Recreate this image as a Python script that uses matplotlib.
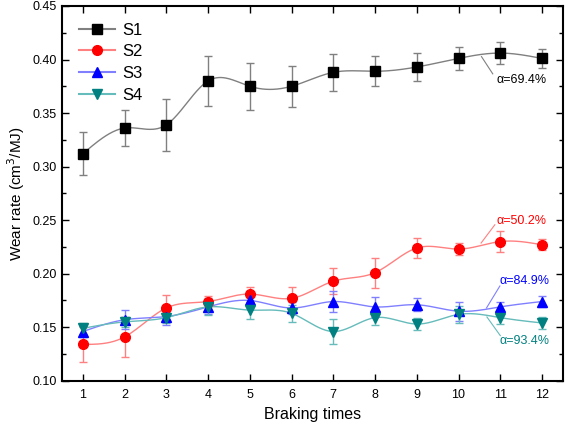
import matplotlib
matplotlib.use('Agg')
import matplotlib.pyplot as plt
import numpy as np
from matplotlib.ticker import MultipleLocator

plt.rcParams['font.family'] = ['Liberation Sans', 'DejaVu Sans']

# dados
braking = [1, 2, 3, 4, 5, 6, 7, 8, 9, 10, 11, 12]
s1 = [0.312, 0.336, 0.339, 0.380, 0.375, 0.375, 0.388, 0.389, 0.393, 0.401, 0.406, 0.401]
s1_err = [0.020, 0.017, 0.024, 0.023, 0.022, 0.019, 0.017, 0.014, 0.013, 0.011, 0.010, 0.009]
s2 = [0.134, 0.141, 0.168, 0.174, 0.181, 0.177, 0.193, 0.201, 0.224, 0.223, 0.230, 0.227]
s2_err = [0.016, 0.019, 0.012, 0.005, 0.007, 0.011, 0.012, 0.014, 0.009, 0.006, 0.010, 0.005]
s3 = [0.146, 0.157, 0.160, 0.169, 0.175, 0.168, 0.174, 0.169, 0.171, 0.165, 0.169, 0.174]
s3_err = [0.005, 0.009, 0.008, 0.007, 0.006, 0.006, 0.010, 0.009, 0.006, 0.009, 0.005, 0.005]
s4 = [0.149, 0.155, 0.159, 0.169, 0.166, 0.163, 0.146, 0.159, 0.153, 0.162, 0.159, 0.154]
s4_err = [0.005, 0.005, 0.005, 0.008, 0.008, 0.008, 0.012, 0.007, 0.006, 0.008, 0.006, 0.006]
rotulos = ['S1', 'S2', 'S3', 'S4']
alfas = ['69.4', '50.2', '84.9', '93.4']


# spline cubica natural so para desenhar a curva suave entre os pontos
def spline(x, y, n=400):
    x = np.asarray(x, float)
    y = np.asarray(y, float)
    k = len(x)
    h = np.diff(x)
    A = np.zeros((k, k))
    b = np.zeros(k)
    A[0, 0] = A[-1, -1] = 1
    for i in range(1, k - 1):
        A[i, i - 1] = h[i - 1]
        A[i, i] = 2 * (h[i - 1] + h[i])
        A[i, i + 1] = h[i]
        b[i] = 3 * ((y[i + 1] - y[i]) / h[i] - (y[i] - y[i - 1]) / h[i - 1])
    c = np.linalg.solve(A, b)
    xs = np.linspace(x[0], x[-1], n)
    idx = np.clip(np.searchsorted(x, xs) - 1, 0, k - 2)
    dx = xs - x[idx]
    bb = (y[idx + 1] - y[idx]) / h[idx] - h[idx] * (2 * c[idx] + c[idx + 1]) / 3
    d = (c[idx + 1] - c[idx]) / (3 * h[idx])
    return xs, y[idx] + bb * dx + c[idx] * dx ** 2 + d * dx ** 3


series = [s1, s2, s3, s4]
erros = [s1_err, s2_err, s3_err, s4_err]
cor_marc = ['black', 'red', 'blue', '#008080']
cor_linha = ['#808080', '#FF8080', '#8080FF', '#66BBBB']
marcadores = ['s', 'o', '^', 'v']

fig = plt.figure(figsize=(5.66, 4.25), dpi=100)
ax = fig.add_axes([0.1095, 0.104, 0.885, 0.882])

for i in range(4):
    xs, ys = spline(braking, series[i])
    ax.plot(xs, ys, color=cor_linha[i], lw=1.0, zorder=2)
    ax.errorbar(braking, series[i], yerr=erros[i], fmt='none', ecolor=cor_linha[i],
                elinewidth=1.0, capsize=3, capthick=1.0, zorder=3)
    ax.plot(braking, series[i], linestyle='none', marker=marcadores[i], color=cor_marc[i],
            markersize=7, zorder=4)
    # entrada da legenda
    ax.plot([], [], color=cor_linha[i], marker=marcadores[i], markerfacecolor=cor_marc[i],
            markeredgecolor=cor_marc[i], markersize=7, label=rotulos[i])

# anotacoes alfa com linha guia (inicio, fim, posicao do texto)
anot = [
    ((10.55, 0.4027), (10.82, 0.3866), (10.92, 0.381)),
    ((10.54, 0.2286), (10.87, 0.2457), (10.92, 0.2494)),
    ((10.67, 0.168), (10.99, 0.1885), (10.97, 0.193)),
    ((10.68, 0.1596), (11.00, 0.1422), (10.97, 0.137)),
]
for i, (p0, p1, pt) in enumerate(anot):
    ax.plot([p0[0], p1[0]], [p0[1], p1[1]], color=cor_linha[i], lw=0.8, zorder=2)
    ax.text(pt[0], pt[1], '\u03b1=' + alfas[i] + '%', color=cor_marc[i], fontsize=9,
            ha='left', va='center')

ax.set_xlim(0.5, 12.5)
ax.set_ylim(0.10, 0.45)
ax.set_xticks(braking)
ax.yaxis.set_major_locator(MultipleLocator(0.05))
ax.yaxis.set_minor_locator(MultipleLocator(0.025))
ax.yaxis.set_major_formatter(matplotlib.ticker.FormatStrFormatter('%.2f'))
ax.tick_params(which='both', direction='in', top=True, right=True, labelsize=9)
ax.tick_params(which='major', length=5, width=1)
ax.tick_params(which='minor', length=3, width=1)
ax.tick_params(axis='x', pad=6)
for s in ax.spines.values():
    s.set_linewidth(1.5)

ax.set_xlabel('Braking times', fontsize=11.5)
ax.set_ylabel('Wear rate (cm$^3$/MJ)', fontsize=11)

ax.legend(loc='upper left', frameon=False, fontsize=12, handlelength=2.2,
          borderaxespad=0.6, labelspacing=0.4, handletextpad=0.4)

fig.savefig('out.png', dpi=100)
